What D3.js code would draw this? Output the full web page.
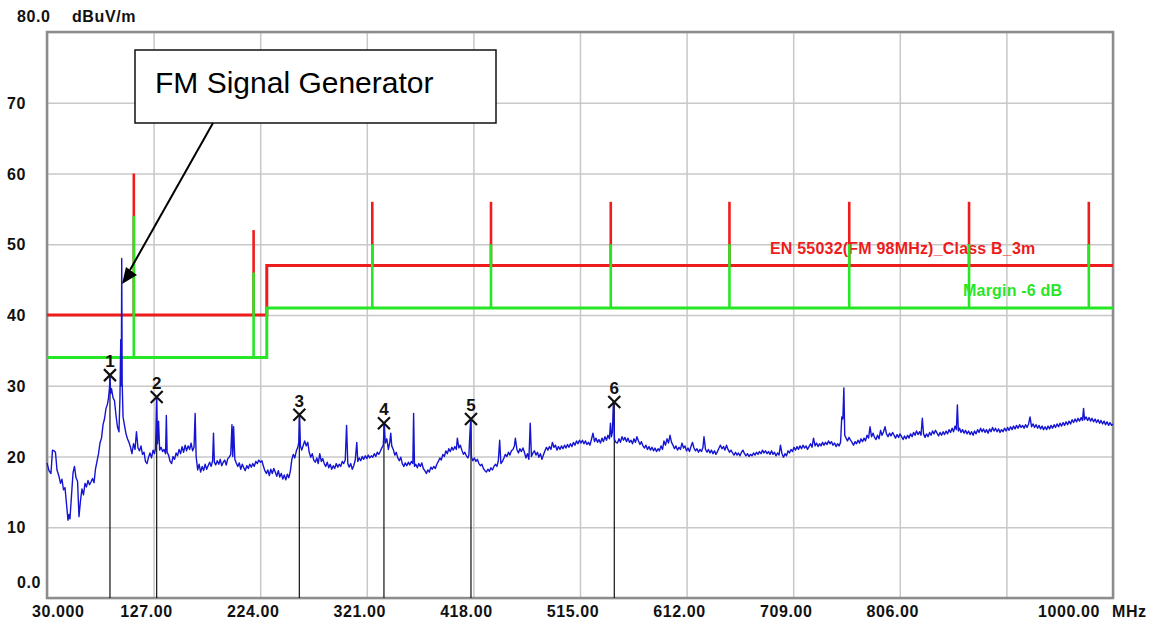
<!DOCTYPE html>
<html>
<head>
<meta charset="utf-8">
<script src="https://cdn.jsdelivr.net/npm/d3@7"></script>
<style>
  body { margin: 0; background: #fff; }
  text { font-family: "Liberation Sans", Arial, sans-serif; }
  .lbl { font-weight: bold; font-size: 16px; letter-spacing: 0.6px; fill: #111; }
</style>
</head>
<body>
<div id="chart"></div>
<script>
// x ticks (MHz) and their printed labels
const xTicks = [30, 127, 224, 321, 418, 515, 612, 709, 806, 903, 1000];
const xTickLabels = ["30.000", "127.00", "224.00", "321.00", "418.00", "515.00", "612.00", "709.00", "806.00", "", "1000.00"];
// y ticks (dBuV/m)
const yTicks = [0, 10, 20, 30, 40, 50, 60, 70, 80];
const yTickLabels = ["0.0", "10", "20", "30", "40", "50", "60", "70", "80.0"];

// limit line EN 55032 (step at 230 MHz) and margin
const limitSteps = [[30, 40], [230, 40], [230, 47], [1000, 47]];
const marginDb = 6;
const spikeFreq = [109, 218, 326, 434, 543, 651, 760, 869, 978];
const spikeTop = [60, 52, 56, 56, 56, 56, 56, 56, 56];

// markers
const markerNo = ["1", "2", "3", "4", "5", "6"];
const markerFreq = [87.3, 129.8, 259.6, 336.6, 415.8, 546.2];
const markerLevel = [31.5, 28.4, 25.9, 24.7, 25.3, 27.7];

// measured trace [MHz, dBuV/m]
const trace = [
[30.0,19.1],[31.8,18.0],[33.6,17.6],[35.0,20.9],[36.4,20.8],[37.7,20.6],[39.1,18.1],[40.9,17.2],[42.3,16.2],[43.6,16.8],
[45.0,15.3],[46.4,15.6],[47.7,13.4],[49.1,11.0],[50.0,11.8],[50.9,11.2],[52.3,14.5],[53.7,17.7],[55.0,18.6],[56.4,17.0],
[57.8,16.5],[59.1,11.5],[60.5,13.8],[61.8,15.4],[63.2,14.6],[64.6,16.2],[65.9,15.7],[67.3,16.6],[68.7,16.0],[70.0,16.4],
[71.4,16.9],[72.8,16.3],[74.1,18.2],[75.5,19.3],[76.9,20.4],[78.2,21.9],[79.6,22.6],[81.0,24.5],[82.3,25.3],[83.7,26.8],
[85.0,27.4],[86.0,28.3],[86.9,29.8],[87.3,31.5],[87.8,28.9],[88.7,29.6],[90.1,28.3],[91.4,27.9],[92.8,25.8],[94.1,24.2],
[95.5,23.5],[96.4,28.4],[97.1,36.5],[97.6,30.0],[98.0,48.0],[98.4,30.5],[99.2,25.6],[100.5,24.4],[101.9,23.2],[103.2,22.5],
[104.6,22.0],[106.0,21.3],[107.3,20.4],[108.7,21.8],[110.1,21.0],[111.4,23.5],[112.8,21.2],[114.2,20.8],[115.5,21.5],[116.9,20.3],
[118.3,20.6],[119.6,19.3],[121.0,19.0],[122.4,19.9],[123.7,20.5],[125.1,19.8],[126.5,20.9],[127.8,20.4],[128.8,21.2],[129.7,28.3],
[130.6,21.8],[131.5,25.0],[132.5,20.9],[133.8,21.3],[135.2,20.7],[136.5,21.0],[137.9,20.4],[138.6,25.8],[139.3,20.6],[140.6,20.2],
[142.0,19.3],[143.4,19.0],[144.7,20.0],[146.1,19.6],[147.5,20.5],[148.8,20.1],[150.2,21.0],[151.6,20.4],[152.9,21.4],[154.3,20.6],
[155.7,21.6],[157.0,20.8],[158.4,21.5],[159.8,21.0],[161.1,21.9],[162.5,20.8],[163.8,21.3],[164.8,26.1],[165.7,20.0],[167.1,18.1],
[168.4,18.9],[169.8,17.8],[171.2,18.6],[172.5,18.0],[173.9,18.9],[175.3,18.2],[176.6,18.7],[178.0,19.2],[179.4,18.6],[180.7,19.4],
[181.5,23.3],[182.3,19.2],[183.5,18.8],[184.9,19.4],[186.3,18.9],[187.6,19.6],[189.0,18.7],[190.4,19.2],[191.7,19.5],[193.1,18.8],
[194.5,19.7],[195.8,19.9],[197.2,20.3],[198.3,24.5],[199.0,20.0],[199.8,24.2],[200.9,19.6],[202.2,19.1],[203.6,18.6],[205.0,19.1],
[206.3,18.2],[207.7,18.9],[209.1,18.4],[210.4,18.0],[211.8,18.7],[213.2,18.3],[214.5,18.9],[215.9,18.5],[217.3,19.0],[218.6,18.6],
[220.0,19.3],[221.4,19.0],[222.7,19.5],[224.1,19.2],[225.5,19.4],[226.8,18.7],[228.2,18.0],[229.6,17.6],[230.9,18.1],[232.3,17.3],
[233.6,18.2],[235.0,17.6],[236.4,18.3],[237.7,17.8],[239.1,17.2],[240.5,18.0],[241.8,17.1],[243.2,17.6],[244.6,16.8],[245.9,17.4],
[247.3,16.7],[248.7,17.5],[250.0,17.0],[251.4,17.9],[252.8,19.6],[254.1,20.3],[255.5,19.8],[256.9,20.8],[258.2,21.3],[259.1,22.0],
[259.8,26.0],[260.6,21.5],[261.8,20.9],[263.2,21.6],[264.5,22.2],[265.9,21.5],[267.3,22.0],[268.6,20.6],[270.0,19.9],[271.4,20.4],
[272.7,19.5],[274.1,19.2],[275.5,19.8],[276.8,19.0],[278.2,20.4],[279.6,19.3],[280.9,19.7],[282.3,19.0],[283.6,18.6],[285.0,19.2],
[286.4,18.4],[287.7,18.9],[289.1,18.2],[290.5,18.7],[291.8,18.3],[293.2,19.0],[294.6,18.5],[295.9,18.9],[297.3,18.6],[298.7,19.3],
[300.0,19.0],[301.4,19.5],[302.6,24.4],[303.7,19.0],[305.0,18.5],[306.4,19.0],[307.8,18.2],[309.1,18.7],[310.5,19.5],[311.9,22.0],
[312.8,19.3],[314.1,19.8],[315.5,19.4],[316.9,20.0],[318.2,19.6],[319.6,20.1],[321.0,19.7],[322.3,20.2],[323.7,19.8],[325.1,20.1],
[326.4,19.9],[327.8,20.4],[329.2,20.0],[330.5,20.6],[331.9,20.3],[333.2,20.7],[334.6,21.2],[336.0,21.6],[336.9,24.7],[337.8,21.9],
[339.2,22.5],[340.6,21.0],[341.9,22.0],[342.8,23.3],[343.7,21.5],[345.1,21.0],[346.5,20.2],[347.8,20.6],[349.2,19.8],[350.6,19.4],
[351.9,19.9],[353.3,19.0],[354.7,18.6],[356.0,19.1],[357.4,18.7],[358.8,19.2],[360.1,18.8],[361.5,19.3],[362.9,19.0],[363.6,26.1],
[364.4,18.6],[365.6,18.9],[367.0,18.4],[368.3,19.0],[369.7,18.6],[371.1,19.1],[372.4,18.3],[373.8,18.0],[375.2,17.6],[376.5,18.1],
[377.9,17.8],[379.3,18.5],[380.6,18.2],[382.0,18.6],[383.4,18.3],[384.7,18.9],[386.1,19.3],[387.5,19.8],[388.8,19.5],[390.2,20.3],
[391.6,20.0],[392.9,20.8],[394.3,20.4],[395.6,21.1],[397.0,20.7],[398.4,21.3],[399.7,20.9],[401.1,21.4],[402.5,21.0],[403.4,22.6],
[404.8,21.2],[406.1,21.6],[407.5,20.9],[408.9,20.3],[410.2,20.6],[411.6,20.1],[413.0,19.8],[413.9,20.2],[414.8,23.2],[415.6,25.3],
[416.2,19.9],[417.5,19.4],[418.9,19.8],[420.3,19.3],[421.6,19.6],[423.0,19.0],[424.4,18.7],[425.7,18.9],[427.1,18.3],[428.5,18.0],
[429.8,17.8],[431.2,18.2],[432.6,17.9],[433.9,18.4],[435.3,18.1],[436.7,18.6],[438.0,18.9],[439.4,18.6],[440.7,19.4],[441.9,22.3],
[443.0,19.0],[444.4,19.3],[445.8,19.8],[447.1,20.3],[448.5,20.0],[449.9,20.6],[451.2,20.2],[452.6,20.8],[454.0,21.0],[455.3,21.5],
[456.2,22.6],[457.6,21.0],[459.0,20.5],[460.3,21.1],[461.7,20.7],[463.1,21.2],[464.4,20.6],[465.8,19.8],[467.2,20.4],[468.5,19.6],
[469.7,24.7],[470.8,20.0],[472.2,20.5],[473.5,20.8],[474.9,20.2],[476.3,20.6],[477.6,19.9],[479.0,20.4],[480.4,19.6],[481.7,20.2],
[483.1,20.8],[484.5,21.3],[485.8,20.9],[487.2,21.4],[488.6,21.0],[489.9,22.0],[491.3,21.3],[492.7,21.6],[494.0,20.9],[495.4,21.4],
[496.8,21.0],[498.1,21.5],[499.5,21.1],[500.9,21.6],[502.2,21.2],[503.6,21.7],[504.9,21.3],[506.3,21.8],[507.7,21.4],[509.0,22.0],
[510.4,21.6],[511.8,22.2],[513.1,21.8],[514.5,22.3],[515.9,21.9],[517.2,22.3],[518.6,21.8],[520.0,22.2],[521.3,21.7],[522.7,22.0],
[524.1,21.6],[525.4,22.4],[526.8,23.3],[528.2,22.1],[529.5,22.6],[530.9,22.0],[532.2,22.4],[533.6,21.9],[535.0,22.6],[536.3,22.1],
[537.7,22.8],[539.1,22.3],[540.4,23.0],[541.8,22.5],[542.7,24.7],[543.6,22.8],[544.5,23.5],[545.4,27.8],[546.4,22.4],[547.7,22.0],
[549.1,21.9],[550.5,22.5],[551.8,22.0],[553.2,22.8],[554.6,22.3],[555.9,22.7],[557.3,22.1],[558.7,22.6],[560.0,22.0],[561.4,22.3],
[562.8,21.8],[564.1,22.5],[565.5,22.0],[566.8,22.8],[568.2,22.2],[569.6,21.7],[570.9,22.1],[572.3,21.5],[573.7,21.2],[575.0,21.6],
[576.4,21.0],[577.8,21.4],[579.1,20.9],[580.5,21.3],[581.9,20.8],[583.2,21.2],[584.6,20.7],[586.0,21.1],[587.3,20.8],[588.7,21.5],
[590.1,21.0],[591.4,22.2],[592.8,21.6],[594.2,22.5],[595.5,21.9],[596.9,23.0],[598.3,22.0],[599.6,21.6],[601.0,21.1],[602.3,21.5],
[603.7,20.9],[605.1,21.3],[606.4,21.0],[607.8,21.9],[609.2,21.2],[610.5,21.5],[611.9,20.8],[613.3,21.2],[614.6,20.7],[616.0,21.4],
[617.4,22.0],[618.7,21.2],[620.1,20.8],[621.5,21.1],[622.8,20.6],[624.2,21.0],[625.6,20.7],[626.9,21.3],[627.8,22.8],[629.2,21.0],
[630.6,20.6],[631.9,21.0],[633.3,20.5],[634.6,20.9],[636.0,20.4],[637.4,20.8],[638.7,20.3],[640.1,20.7],[641.5,21.2],[642.8,21.6],
[644.2,21.1],[645.6,21.4],[646.9,20.9],[648.3,21.6],[649.7,21.0],[651.0,20.6],[652.4,20.9],[653.8,20.5],[655.1,20.2],[656.5,20.6],
[657.9,20.2],[659.2,20.5],[660.6,20.1],[661.9,20.6],[663.3,20.9],[664.7,20.4],[666.0,20.1],[667.4,20.4],[668.8,20.0],[670.1,20.3],
[671.5,20.1],[672.9,20.5],[674.2,20.2],[675.6,20.6],[677.0,20.3],[678.3,20.7],[679.7,20.4],[681.1,20.9],[682.4,20.5],[683.8,20.8],
[685.2,20.4],[686.5,20.7],[687.9,20.3],[689.3,20.8],[690.6,20.3],[692.0,20.6],[693.3,20.1],[694.7,20.5],[696.1,20.2],[697.4,21.6],
[698.8,20.4],[700.2,19.9],[701.5,20.4],[702.9,20.1],[704.3,20.8],[705.6,20.5],[707.0,21.0],[708.4,20.7],[709.7,21.3],[711.1,20.9],
[712.5,21.4],[713.8,21.0],[715.2,21.5],[716.6,21.1],[717.9,21.6],[719.3,21.2],[720.7,21.5],[722.0,21.0],[723.4,21.4],[724.8,21.8],
[726.1,21.3],[727.5,22.6],[728.9,21.5],[730.2,21.9],[731.6,21.4],[732.9,21.8],[734.3,21.5],[735.7,22.0],[737.0,21.6],[738.4,22.0],
[739.8,21.7],[741.1,22.2],[742.5,21.8],[743.9,22.1],[745.2,21.6],[746.6,21.9],[748.0,21.4],[749.3,21.8],[750.7,21.5],[752.1,22.0],
[753.2,25.6],[754.2,25.3],[755.1,29.7],[755.9,23.0],[757.1,22.6],[758.4,22.2],[759.8,22.7],[761.2,22.3],[762.5,22.0],[763.9,21.6],
[765.3,22.1],[766.6,21.8],[768.0,22.3],[769.4,21.9],[770.7,22.5],[772.1,22.1],[773.5,22.6],[774.8,22.2],[776.2,23.0],[777.6,22.6],
[778.9,24.2],[780.3,22.8],[781.7,23.3],[783.0,22.7],[784.4,22.4],[785.7,23.0],[787.1,22.5],[788.5,23.7],[789.8,23.0],[791.2,23.5],
[792.6,24.2],[793.9,23.2],[795.3,22.8],[796.7,23.3],[798.0,22.9],[799.4,23.4],[800.8,23.0],[802.1,22.6],[803.5,23.1],[804.9,22.7],
[806.2,23.2],[807.6,22.8],[809.0,22.4],[810.3,22.9],[811.7,22.5],[813.1,23.0],[814.4,22.6],[815.8,23.2],[817.2,22.8],[818.5,23.4],
[819.9,23.0],[821.2,23.6],[822.6,23.1],[824.0,23.5],[825.3,23.0],[826.5,25.4],[827.6,23.2],[829.0,22.7],[830.3,23.2],[831.7,22.8],
[833.1,23.4],[834.4,23.0],[835.8,23.6],[837.2,23.2],[838.5,23.7],[839.9,23.3],[841.3,22.9],[842.6,23.4],[844.0,23.0],[845.4,23.5],
[846.7,23.1],[848.1,23.6],[849.5,23.2],[850.8,23.8],[852.2,23.4],[853.6,24.0],[854.9,23.5],[856.3,24.3],[857.5,23.8],[858.4,27.3],
[859.3,23.6],[860.4,24.0],[861.7,23.4],[863.1,23.8],[864.5,23.3],[865.8,23.7],[867.2,23.2],[868.6,23.6],[869.9,23.1],[871.3,23.5],
[872.7,23.0],[874.0,23.6],[875.4,23.2],[876.8,23.8],[878.1,23.4],[879.5,24.0],[880.9,23.5],[882.2,23.9],[883.6,23.4],[884.9,23.8],
[886.3,23.3],[887.7,23.9],[889.0,23.5],[890.4,24.1],[891.8,23.6],[893.1,24.0],[894.5,23.5],[895.9,23.9],[897.2,23.4],[898.6,23.8],
[900.0,23.5],[901.3,24.0],[902.7,23.6],[904.1,24.1],[905.4,23.7],[906.8,24.2],[908.2,23.8],[909.5,24.3],[910.9,23.9],[912.2,24.4],
[913.6,24.0],[915.0,24.5],[916.3,24.1],[917.7,24.4],[919.1,24.0],[920.4,24.5],[921.8,24.1],[923.2,24.6],[924.5,25.6],[925.9,24.2],
[927.3,24.6],[928.6,24.1],[930.0,24.5],[931.4,24.0],[932.7,24.4],[934.1,23.9],[935.5,24.3],[936.8,23.8],[938.2,24.2],[939.6,23.8],
[940.9,24.3],[942.3,23.9],[943.6,24.4],[945.0,24.0],[946.4,24.5],[947.7,24.1],[949.1,24.6],[950.5,24.2],[951.8,24.7],[953.2,24.3],
[954.6,24.8],[955.9,24.4],[957.3,24.9],[958.7,24.5],[960.0,25.0],[961.4,24.6],[962.8,25.2],[964.1,24.8],[965.5,25.3],[966.9,24.9],
[968.2,25.4],[969.6,25.0],[971.0,25.5],[972.3,25.1],[973.2,26.8],[974.1,25.2],[975.5,25.6],[976.9,25.1],[978.2,25.5],[979.6,25.0],
[980.9,25.4],[982.3,24.9],[983.7,25.3],[985.0,24.8],[986.4,25.2],[987.8,24.7],[989.1,25.1],[990.5,24.6],[991.9,25.0],[993.2,24.5],
[994.6,24.9],[996.0,24.4],[997.3,24.8],[998.7,24.4],[1000.0,24.6]
];

const W = 1155, H = 623;
const plot = { left: 47, right: 1113, top: 32, bottom: 598 };

const x = d3.scaleLinear().domain([30, 1000]).range([plot.left, plot.right]);
const y = d3.scaleLinear().domain([0, 80]).range([plot.bottom, plot.top]);

const svg = d3.select("#chart").append("svg").attr("width", W).attr("height", H);

// grid
svg.append("g")
    .attr("transform", `translate(0,${plot.bottom})`)
    .call(d3.axisBottom(x).tickValues(xTicks).tickSize(-(plot.bottom - plot.top)).tickFormat(""))
    .call(g => g.select(".domain").remove())
    .call(g => g.selectAll("line").attr("stroke", "#c8c8c8").attr("stroke-width", 1.5));

svg.append("g")
    .attr("transform", `translate(${plot.left},0)`)
    .call(d3.axisLeft(y).tickValues(yTicks).tickSize(-(plot.right - plot.left)).tickFormat(""))
    .call(g => g.select(".domain").remove())
    .call(g => g.selectAll("line").attr("stroke", "#c8c8c8").attr("stroke-width", 1.5));

// frame
svg.append("rect")
    .attr("x", plot.left).attr("y", plot.top)
    .attr("width", plot.right - plot.left).attr("height", plot.bottom - plot.top)
    .attr("fill", "none").attr("stroke", "#8c8c8c").attr("stroke-width", 2.5);

// tick labels
svg.append("g").selectAll("text")
    .data(xTicks)
    .join("text")
    .attr("class", "lbl")
    .attr("x", (d, i) => i === 0 ? 32 : i === xTicks.length - 1 ? x(d) - 13 : x(d) - 7)
    .attr("y", 617)
    .attr("text-anchor", (d, i) => i === 0 ? "start" : i === xTicks.length - 1 ? "end" : "middle")
    .text((d, i) => xTickLabels[i]);

svg.append("text").attr("class", "lbl").attr("x", 1112).attr("y", 617).text("MHz");

svg.append("g").selectAll("text")
    .data(yTicks)
    .join("text")
    .attr("class", "lbl")
    .attr("x", d => (d === 0 || d === 80) ? 17 : 7)
    .attr("y", d => d === 0 ? 588 : d === 80 ? 22 : y(d) + 6)
    .text((d, i) => yTickLabels[i]);

svg.append("text").attr("class", "lbl").attr("x", 72).attr("y", 22).text("dBuV/m");

// limit and margin lines
const stepLine = d3.line().x(d => x(d[0])).y(d => y(d[1]));
const marginSteps = limitSteps.map(d => [d[0], d[1] - marginDb]);
const limitAt = f => f < 230 ? limitSteps[0][1] : limitSteps[2][1];

svg.append("path").datum(limitSteps)
    .attr("d", stepLine).attr("fill", "none").attr("stroke", "#ee1c1c").attr("stroke-width", 3);
svg.append("path").datum(marginSteps)
    .attr("d", stepLine).attr("fill", "none").attr("stroke", "#26e626").attr("stroke-width", 3);

svg.append("text").attr("class", "lbl")
    .attr("x", 770).attr("y", 254).style("fill", "#ee1c1c").style("letter-spacing", "0.2px")
    .text("EN 55032(FM 98MHz)_Class B_3m");
svg.append("text").attr("class", "lbl")
    .attr("x", 963).attr("y", 296).style("fill", "#26e626").style("letter-spacing", "0.2px")
    .text("Margin -6 dB");

// spikes of the limit
svg.append("g").selectAll("line")
    .data(spikeFreq)
    .join("line")
    .attr("x1", d => x(d)).attr("x2", d => x(d))
    .attr("y1", d => y(limitAt(d))).attr("y2", (d, i) => y(spikeTop[i]))
    .attr("stroke", "#ee1c1c").attr("stroke-width", 2.6);
svg.append("g").selectAll("line")
    .data(spikeFreq)
    .join("line")
    .attr("x1", d => x(d)).attr("x2", d => x(d))
    .attr("y1", d => y(limitAt(d) - marginDb)).attr("y2", (d, i) => y(spikeTop[i] - marginDb))
    .attr("stroke", "#26e626").attr("stroke-width", 2.6);

// marker stems
svg.append("g").selectAll("line")
    .data(markerFreq)
    .join("line")
    .attr("x1", d => x(d)).attr("x2", d => x(d))
    .attr("y1", (d, i) => y(markerLevel[i])).attr("y2", plot.bottom)
    .attr("stroke", "#111").attr("stroke-width", 1.2);

// trace
svg.append("path").datum(trace)
    .attr("d", d3.line().x(d => x(d[0])).y(d => y(d[1])))
    .attr("fill", "none").attr("stroke", "#1414d2").attr("stroke-width", 1.4)
    .attr("stroke-linejoin", "round");

// markers: X and number
const mk = svg.append("g").selectAll("g")
    .data(markerFreq)
    .join("g")
    .attr("transform", (d, i) => `translate(${x(d)},${y(markerLevel[i])})`);
mk.append("path")
    .attr("d", "M-6,-6L6,6M-6,6L6,-6")
    .attr("stroke", "#111").attr("stroke-width", 2.2);
mk.append("text")
    .attr("y", -8).attr("text-anchor", "middle")
    .attr("font-weight", "bold").attr("font-size", 17).attr("fill", "#111")
    .text((d, i) => markerNo[i]);

// annotation box with arrow
svg.append("rect")
    .attr("x", 135).attr("y", 50).attr("width", 361).attr("height", 73)
    .attr("fill", "#fff").attr("stroke", "#111").attr("stroke-width", 1.5);
svg.append("text")
    .attr("x", 155).attr("y", 93)
    .attr("font-size", 30).attr("fill", "#000")
    .text("FM Signal Generator");

svg.append("line")
    .attr("x1", 213).attr("y1", 123).attr("x2", 130).attr("y2", 270)
    .attr("stroke", "#000").attr("stroke-width", 2);
svg.append("path")
    .attr("d", "M122,284L137,275L126,267Z")
    .attr("fill", "#000");
</script>
</body>
</html>
